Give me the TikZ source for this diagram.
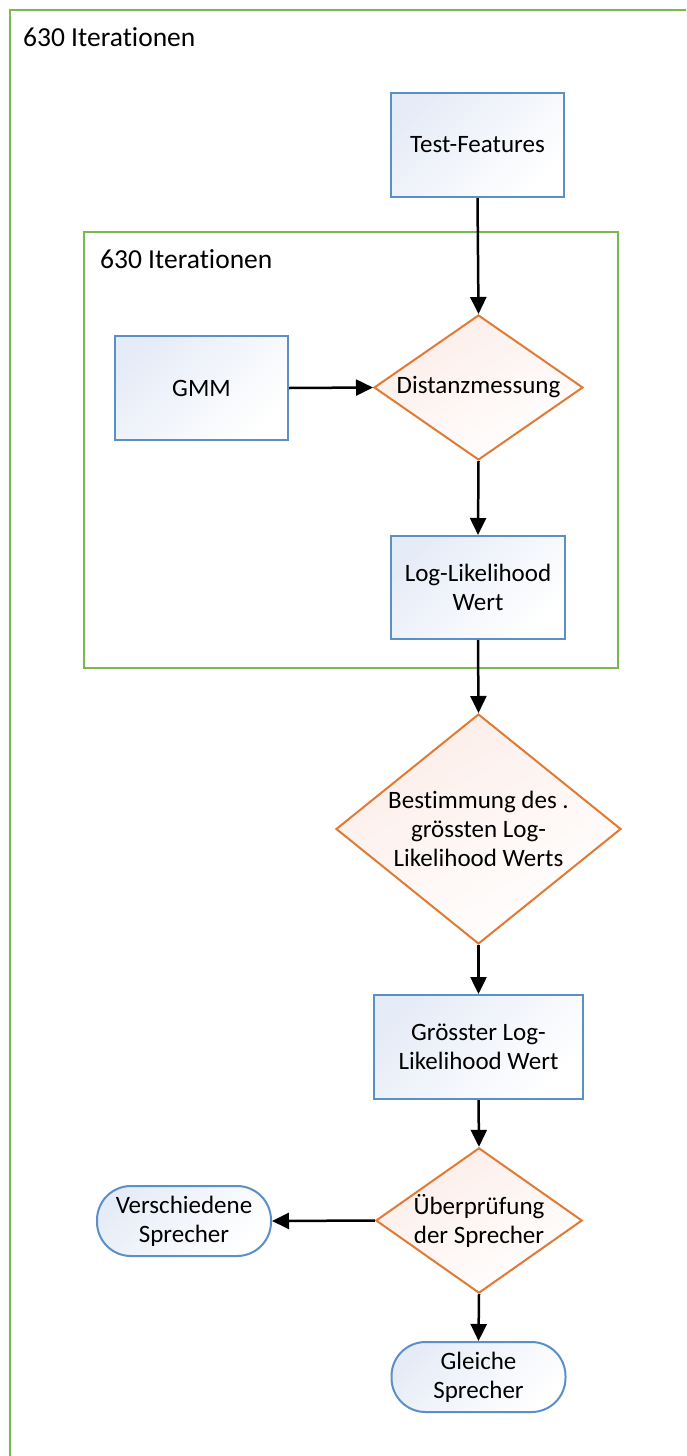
\documentclass[tikz,border=0pt]{standalone}
\usepackage{fontspec}
\setmainfont[Ligatures=CommonOff]{Carlito}
\usetikzlibrary{shapes.geometric,arrows.meta}
\definecolor{frameGreen}{HTML}{7AB94C}
\definecolor{boxBlue}{HTML}{5A8FC8}
\definecolor{boxFill}{HTML}{E6ECF7}
\definecolor{decOrange}{HTML}{E07A35}
\definecolor{decFill}{HTML}{FCEDE8}
\tikzset{
  frame/.style={draw=frameGreen, line width=2pt},
  framelabel/.style={anchor=west, inner sep=0pt, font=\fontsize{27.5}{32}\selectfont},
  procbox/.style={draw=boxBlue, line width=2pt, rectangle, top color=boxFill, bottom color=white, shading angle=45,
    align=center, inner sep=0pt, font=\fontsize{25}{29}\selectfont},
  decision/.style={draw=decOrange, line width=2pt, diamond, top color=decFill, bottom color=white, shading angle=30,
    align=center, inner sep=0pt, font=\fontsize{25}{29}\selectfont},
  terminal/.style={draw=boxBlue, line width=2pt, rectangle, rounded corners=34pt, top color=boxFill, bottom color=white, shading angle=45,
    align=center, inner sep=0pt, minimum width=174pt, minimum height=70pt, font=\fontsize{25}{29}\selectfont},
  flow/.style={line width=2.5pt, -{Triangle[length=17pt,width=16pt]}}
}
\begin{document}
\begin{tikzpicture}[x=1pt,y=-1pt]
\useasboundingbox (0,0) rectangle (686,1456);
\fill[white] (0,0) rectangle (686,1456);
% outer frame
\draw[frame] (686,10) -- (10,10) -- (10,1456);
\node[framelabel] (outerlabel) at (23,37) {630 Iterationen};
% inner frame
\draw[frame] (84,232) rectangle (618,668);
\node[framelabel] (innerlabel) at (100,259) {630 Iterationen};

\node[procbox, minimum width=173pt, minimum height=104pt] (test) at (477.5,145) {Test-Features};
\node[procbox, minimum width=173pt, minimum height=104pt] (gmm) at (201.5,388) {GMM};
\node[decision, minimum width=209pt, minimum height=145pt, shape aspect=1.44] (dist) at (478.5,387.5) {Distanzmessung};
\node[procbox, minimum width=174pt, minimum height=103pt] (ll) at (478,587.5) {Log-Likelihood\\Wert};
\node[decision, minimum width=285pt, minimum height=230pt, shape aspect=1.24] (best) at (478.5,829) {Bestimmung des .\\grössten Log-\\Likelihood Werts};
\node[procbox, minimum width=209pt, minimum height=104pt] (gross) at (478.5,1047) {Grösster Log-\\Likelihood Wert};
\node[decision, minimum width=206pt, minimum height=145pt, shape aspect=1.42] (check) at (479,1220.5) {Überprüfung\\der Sprecher};
\node[terminal] (versch) at (184,1221) {Verschiedene\\Sprecher};
\node[terminal] (gleich) at (478.5,1377) {Gleiche\\Sprecher};

\draw[flow] (test.south) -- (dist.north);
\draw[flow] (gmm.east) -- (dist.west);
\draw[flow] (dist.south) -- (ll.north);
\draw[flow] (ll.south) -- (best.north);
\draw[flow] (best.south) -- (gross.north);
\draw[flow] (gross.south) -- (check.north);
\draw[flow] (check.west) -- (versch.east);
\draw[flow] (check.south) -- (gleich.north);
\end{tikzpicture}
\end{document}
